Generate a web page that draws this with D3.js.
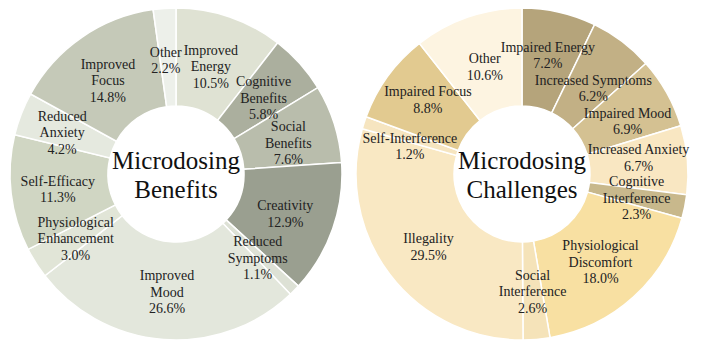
<!DOCTYPE html>
<html>
<head>
<meta charset="utf-8">
<script src="https://cdn.jsdelivr.net/npm/d3@7"></script>
<style>
html,body{margin:0;padding:0;background:#fff;}
svg{display:block;}
</style>
</head>
<body>
<svg id="chart" width="701" height="359"></svg>
<script>
// ---- Data ----
const benefitCategories = ["Improved|Energy","Cognitive|Benefits","Social|Benefits","Creativity","Reduced|Symptoms","Improved|Mood","Physiological|Enhancement","Self-Efficacy","Reduced|Anxiety","Improved|Focus","Other"];
const benefitValues = [10.5,5.8,7.6,12.9,1.1,26.6,3.0,11.3,4.2,14.8,2.2];
const benefitColors = ["#dfe2d3","#abaf9e","#b9bdac","#9a9f90","#dde1d5","#e3e7dc","#e1e5d7","#d0d6c3","#e5e9df","#c5c9b8","#edf0ea"];

const challengeCategories = ["Impaired Energy","Increased Symptoms","Impaired Mood","Increased Anxiety","Cognitive|Interference","Physiological|Discomfort","Social|Interference","Illegality","Self-Interference","Impaired Focus","Other"];
const challengeValues = [7.2,6.2,6.9,6.7,2.3,18.0,2.6,29.5,1.2,8.8,10.6];
const challengeColors = ["#b5a47b","#c2b085","#d4c192","#f9e7c2","#c8b88c","#f8e0a2","#f5e3b9","#f9e8c3","#f6e5c0","#e2ca90","#fdf4e1"];

const titles = [["Microdosing","Benefits"],["Microdosing","Challenges"]];

// ---- Drawing ----
const FONT = "'Liberation Serif', Tinos, 'DejaVu Serif', Times, serif";
const svg = d3.select("#chart").attr("font-family", FONT);
const outerR = 166, innerR = 68, labelR = 120;

// label nudges (layout only, px)
const nudgeLeft  = [[-4,6],[-2,4],[-2,5],[-4,0],[-4,0],[0,-2],[1,0],[1,1],[-2,2],[0,5],[-2,6]];
const nudgeRight = [[-1,-2],[-1,10],[1,6],[-3,-6],[-3,0],[-2,-1],[0,-2],[2,0],[2,9],[3,-4],[2,6]];

function donut(cx, cy, cats, vals, cols, title, nudge) {
  const g = svg.append("g").attr("transform", `translate(${cx},${cy})`);
  const data = cats.map((c,i)=>({label:c, value:vals[i], color:cols[i], nudge:nudge[i]}));
  const pie = d3.pie().value(d=>d.value).sort(null);
  const arc = d3.arc().innerRadius(innerR).outerRadius(outerR);
  const lArc = d3.arc().innerRadius(labelR).outerRadius(labelR);
  const arcs = pie(data);
  g.selectAll("path").data(arcs).join("path")
    .attr("d", arc)
    .attr("fill", d=>d.data.color)
    .attr("stroke","#fff").attr("stroke-width",1.5);
  const lh = 16.5;
  const lbl = g.selectAll("text.lbl").data(arcs).join("text")
    .attr("class","lbl")
    .attr("text-anchor","middle")
    .attr("font-size",14)
    .attr("fill","#222")
    .attr("transform", d=>{const [x,y]=lArc.centroid(d); return `translate(${x+d.data.nudge[0]},${y+d.data.nudge[1]})`;});
  lbl.each(function(d){
    const lines = d.data.label.split("|").concat([d.data.value.toFixed(1)+"%"]);
    const t = d3.select(this);
    const off = -(lines.length-1)*lh/2;
    lines.forEach((ln,i)=>{
      t.append("tspan").attr("x",0).attr("y", off + i*lh).attr("dy","0.35em").text(ln);
    });
  });
  const tt = g.append("text").attr("text-anchor","middle").attr("font-size",25).attr("fill","#111");
  tt.append("tspan").attr("x",0).attr("y",-14).attr("dy","0.35em").text(title[0]);
  tt.append("tspan").attr("x",0).attr("y",15).attr("dy","0.35em").text(title[1]);
}

donut(176, 174, benefitCategories, benefitValues, benefitColors, titles[0], nudgeLeft);
donut(522, 174, challengeCategories, challengeValues, challengeColors, titles[1], nudgeRight);
</script>
</body>
</html>
